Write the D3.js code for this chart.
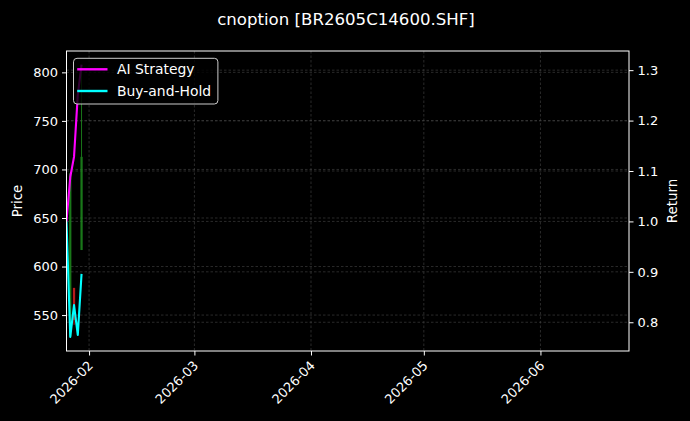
<!DOCTYPE html>
<html>
<head>
<meta charset="utf-8">
<script src="https://cdn.jsdelivr.net/npm/d3@7"></script>
<style>
  html, body { margin: 0; padding: 0; background: #000; }
  svg { display: block; font-family: "DejaVu Sans", sans-serif; }
</style>
</head>
<body>
<svg id="chart" width="690" height="421"></svg>
<script>
// series
var dates = ['2026-01-26', '2026-01-27', '2026-01-28', '2026-01-29', '2026-01-30'];
var strategyReturn = [1.000, 1.088, 1.128, 1.251, 1.311];
var buyHoldReturn = [1.000, 0.771, 0.834, 0.775, 0.896];

// price candles (left axis)
var candleDates = ['2026-01-27', '2026-01-28', '2026-01-30'];
var candleOpen = [528, 578, 617];
var candleClose = [696, 545, 713];
var candleHigh = [697, 578, 805];
var candleLow = [527, 540, 617];

// axis limits and ticks
var dateLimits = ['2026-01-26T00:00', '2026-06-24T13:00'];
var priceLimits = [513, 822];
var returnLimits = [0.743, 1.338];
var monthTicks = ['2026-02-01', '2026-03-01', '2026-04-01', '2026-05-01', '2026-06-01'];
var priceTicks = [550, 600, 650, 700, 750, 800];
var returnTicks = [0.8, 0.9, 1.0, 1.1, 1.2, 1.3];
var seriesNames = ['AI Strategy', 'Buy-and-Hold'];

;(function() {
    var W = 690, H = 421;
    var margin = {top: 51, right: 61, bottom: 70, left: 66.5};
    var w = W - margin.left - margin.right,
        h = H - margin.top - margin.bottom;

    var parse = d3.isoParse;
    var x = d3.scaleTime().domain(dateLimits.map(parse)).range([0, w]);
    var yPrice = d3.scaleLinear().domain(priceLimits).range([h, 0]);
    var yRet = d3.scaleLinear().domain(returnLimits).range([h, 0]);

    var svg = d3.select('#chart');
    svg.append('rect').attr('width', W).attr('height', H).attr('fill', '#000');

    svg.append('defs').append('clipPath').attr('id', 'plot-clip')
        .append('rect').attr('width', w).attr('height', h);

    var g = svg.append('g')
        .attr('transform', 'translate(' + margin.left + ',' + margin.top + ')');

    // grid
    var grid = g.append('g').attr('class', 'grid')
        .attr('stroke', '#474747').attr('stroke-width', 0.6)
        .attr('stroke-dasharray', '2.5,2');
    grid.selectAll('line.vx').data(monthTicks.map(parse)).enter()
        .append('line').attr('class', 'vx')
        .attr('x1', function(d){ return x(d); }).attr('x2', function(d){ return x(d); })
        .attr('y1', 0).attr('y2', h);
    grid.selectAll('line.hp').data(priceTicks).enter()
        .append('line').attr('class', 'hp')
        .attr('x1', 0).attr('x2', w)
        .attr('y1', function(d){ return yPrice(d); }).attr('y2', function(d){ return yPrice(d); });
    grid.selectAll('line.hr').data(returnTicks).enter()
        .append('line').attr('class', 'hr')
        .attr('x1', 0).attr('x2', w)
        .attr('y1', function(d){ return yRet(d); }).attr('y2', function(d){ return yRet(d); });

    var plot = g.append('g').attr('clip-path', 'url(#plot-clip)');

    // candles
    var candles = candleDates.map(function(d, i) {
        return {date: parse(d), o: candleOpen[i], c: candleClose[i], hi: candleHigh[i], lo: candleLow[i]};
    });
    var dayPx = x(parse('2026-01-27')) - x(parse('2026-01-26'));
    var bodyW = dayPx * 0.6;
    var candle = plot.selectAll('g.candle').data(candles).enter()
        .append('g').attr('class', 'candle')
        .attr('opacity', 0.85);
    candle.append('line')
        .attr('x1', function(d){ return x(d.date); })
        .attr('x2', function(d){ return x(d.date); })
        .attr('y1', function(d){ return yPrice(d.hi); })
        .attr('y2', function(d){ return yPrice(d.lo); })
        .attr('stroke', function(d){ return d.c >= d.o ? '#1e8c1e' : '#d82020'; })
        .attr('stroke-width', 1);
    candle.append('rect')
        .attr('x', function(d){ return x(d.date) - bodyW / 2; })
        .attr('width', bodyW)
        .attr('y', function(d){ return yPrice(Math.max(d.o, d.c)); })
        .attr('height', function(d){ return Math.abs(yPrice(d.o) - yPrice(d.c)); })
        .attr('fill', function(d){ return d.c >= d.o ? '#1e8c1e' : '#d82020'; });

    // return lines
    var colors = ['#ff00ff', '#00ffff'];
    var series = [strategyReturn, buyHoldReturn];
    var line = d3.line()
        .x(function(d){ return x(d.date); })
        .y(function(d){ return yRet(d.v); });
    series.forEach(function(vals, k) {
        var pts = vals.map(function(v, i){ return {date: parse(dates[i]), v: v}; });
        plot.append('path').datum(pts)
            .attr('d', line)
            .attr('fill', 'none')
            .attr('stroke', colors[k])
            .attr('stroke-width', 2.1)
            .attr('stroke-linejoin', 'round');
    });

    // axes
    var fontSize = 13;
    var xAxis = g.append('g').attr('transform', 'translate(0,' + h + ')')
        .call(d3.axisBottom(x).tickValues(monthTicks.map(parse))
            .tickFormat(d3.timeFormat('%Y-%m')).tickSize(4.5).tickPadding(3));
    xAxis.selectAll('text')
        .attr('font-size', fontSize)
        .style('text-anchor', 'end')
        .attr('dx', 0).attr('dy', 0)
        .attr('transform', 'translate(-1,10) rotate(-45)');

    var yLeft = g.append('g')
        .call(d3.axisLeft(yPrice).tickValues(priceTicks).tickSize(4.5).tickPadding(4));
    yLeft.selectAll('text').attr('font-size', fontSize);

    var yRight = g.append('g').attr('transform', 'translate(' + w + ',0)')
        .call(d3.axisRight(yRet).tickValues(returnTicks).tickFormat(d3.format('.1f'))
            .tickSize(4.5).tickPadding(4));
    yRight.selectAll('text').attr('font-size', fontSize);

    [xAxis, yLeft, yRight].forEach(function(a) {
        a.select('.domain').remove();
        a.selectAll('line').attr('stroke', '#fff');
        a.selectAll('text').attr('fill', '#fff').attr('font-family', '"DejaVu Sans", sans-serif');
    });

    // frame
    g.append('rect').attr('width', w).attr('height', h)
        .attr('fill', 'none').attr('stroke', '#fff').attr('stroke-width', 1);

    // labels
    svg.append('text')
        .attr('x', W / 2 + 1).attr('y', 25)
        .attr('text-anchor', 'middle')
        .attr('fill', '#fff').attr('font-size', 16.6)
        .text('cnoption [BR2605C14600.SHF]');
    svg.append('text')
        .attr('transform', 'translate(22,' + (margin.top + h / 2) + ') rotate(-90)')
        .attr('text-anchor', 'middle')
        .attr('fill', '#fff').attr('font-size', 13.4)
        .text('Price');
    svg.append('text')
        .attr('transform', 'translate(677,' + (margin.top + h / 2) + ') rotate(-90)')
        .attr('text-anchor', 'middle')
        .attr('fill', '#fff').attr('font-size', 13.4)
        .text('Return');

    // legend
    var legend = g.append('g').attr('transform', 'translate(7,7.3)');
    legend.append('rect')
        .attr('width', 144.4).attr('height', 45.7)
        .attr('rx', 3.5).attr('ry', 3.5)
        .attr('fill', '#000').attr('fill-opacity', 0.8)
        .attr('stroke', '#ccc').attr('stroke-width', 1);
    var item = legend.selectAll('g.item').data(seriesNames).enter()
        .append('g').attr('class', 'item')
        .attr('transform', function(d, i){ return 'translate(0,' + (11 + i * 21.7) + ')'; });
    item.append('line')
        .attr('x1', 3.7).attr('x2', 34)
        .attr('stroke', function(d, i){ return colors[i]; })
        .attr('stroke-width', 2.4);
    item.append('text')
        .attr('x', 43.5).attr('y', 5)
        .attr('fill', '#fff').attr('font-size', 13.9)
        .text(function(d){ return d; });
})();
</script>
</body>
</html>
